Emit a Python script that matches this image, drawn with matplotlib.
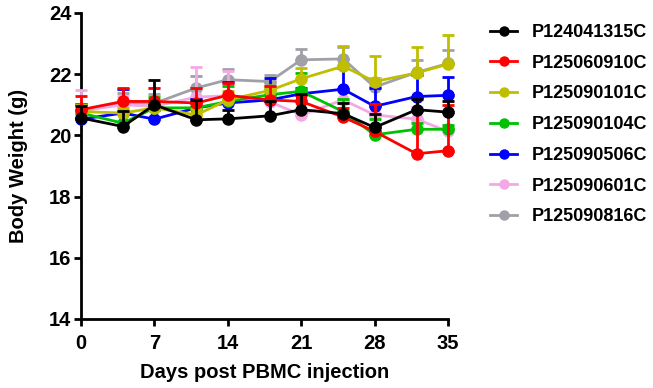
import numpy as np
import matplotlib
matplotlib.use('Agg')
import matplotlib.pyplot as plt

plt.rcParams['font.family'] = ['Liberation Sans', 'DejaVu Sans']
plt.rcParams['font.weight'] = 'bold'

days = [0, 4, 7, 11, 14, 18, 21, 25, 28, 32, 35]

names = ['P124041315C', 'P125060910C', 'P125090101C', 'P125090104C',
         'P125090506C', 'P125090601C', 'P125090816C']
colors = ['#000000', '#FF0000', '#BFBF00', '#00C000', '#0000FF', '#F5A8E6', '#A0A0A8']

means = [
    [20.57, 20.29, 21.00, 20.51, 20.54, 20.64, 20.84, 20.71, 20.26, 20.84, 20.76],
    [20.84, 21.11, 21.11, 21.06, 21.31, 21.16, 21.11, 20.60, 20.13, 19.40, 19.50],
    [20.78, 20.73, 20.90, 20.67, 21.16, 21.47, 21.85, 22.26, 21.76, 22.04, 22.33],
    [20.73, 20.40, 20.90, 20.90, 21.11, 21.33, 21.44, 20.78, 20.02, 20.20, 20.20],
    [20.53, 20.73, 20.53, 20.90, 21.06, 21.16, 21.36, 21.51, 20.95, 21.27, 21.31],
    [20.80, 21.00, 20.95, 21.25, 21.30, 21.10, 20.67, 21.16, 20.67, 20.53, 20.13],
    [20.80, 21.05, 21.05, 21.55, 21.82, 21.76, 22.47, 22.50, 21.58, 22.06, 22.35],
]

sems = [
    [0.40, 0.50, 0.80, 0.65, 0.30, 0.50, 0.50, 0.35, 0.45, 0.35, 0.35],
    [0.45, 0.45, 0.45, 0.50, 0.40, 0.45, 0.20, 0.30, 0.90, 1.40, 1.50],
    [0.20, 0.15, 0.20, 0.20, 0.30, 0.15, 0.35, 0.65, 0.85, 0.85, 0.95],
    [0.30, 0.40, 0.35, 0.20, 0.50, 0.20, 0.60, 0.40, 0.50, 0.20, 0.15],
    [0.50, 0.80, 0.30, 0.30, 0.70, 0.70, 0.20, 0.70, 0.60, 0.70, 0.60],
    [0.70, 0.30, 0.60, 1.00, 0.80, 0.50, 0.15, 0.30, 1.20, 0.40, 0.15],
    [0.20, 0.35, 0.30, 0.40, 0.35, 0.20, 0.35, 0.40, 0.30, 0.40, 0.45],
]

fig = plt.figure(figsize=(6.53, 3.88), dpi=100)
ax = fig.add_axes([81 / 653, 69 / 388, 367 / 653, 306 / 388])

for i in range(len(names)):
    err = np.array(sems[i])
    ax.errorbar(days, means[i], yerr=[np.zeros_like(err), err],
                color=colors[i], marker='o', markersize=8, linewidth=2,
                elinewidth=2, capsize=4.5, capthick=2, label=names[i],
                zorder=20 - i, clip_on=False)

ax.set_xlim(0, 35)
ax.set_ylim(14, 24)
ax.set_xticks([0, 7, 14, 21, 28, 35])
ax.set_yticks([14, 16, 18, 20, 22, 24])
ax.spines['top'].set_visible(False)
ax.spines['right'].set_visible(False)
ax.spines['left'].set_linewidth(2)
ax.spines['bottom'].set_linewidth(2)
ax.tick_params(width=2, length=5, labelsize=14.5)
ax.tick_params(axis='x', pad=6)
ax.tick_params(axis='y', pad=2)
for lab in ax.get_xticklabels() + ax.get_yticklabels():
    lab.set_fontweight('bold')

ax.set_xlabel('Days post PBMC injection', fontsize=14.5, fontweight='bold', labelpad=7)
ax.set_ylabel('Body Weight (g)', fontsize=14.5, fontweight='bold', labelpad=15)

leg_handles = [plt.Line2D([], [], color=c, marker='o', markersize=6.5, linewidth=2)
               for c in colors]
fig.legend(leg_handles, names, loc='upper left', bbox_to_anchor=(490 / 653, 1 - 24 / 388),
           frameon=False, handlelength=1.5, handletextpad=0.83,
           labelspacing=0.76, borderpad=0, borderaxespad=0,
           prop={'weight': 'bold', 'size': 13})

plt.savefig('out.png', dpi=100)
